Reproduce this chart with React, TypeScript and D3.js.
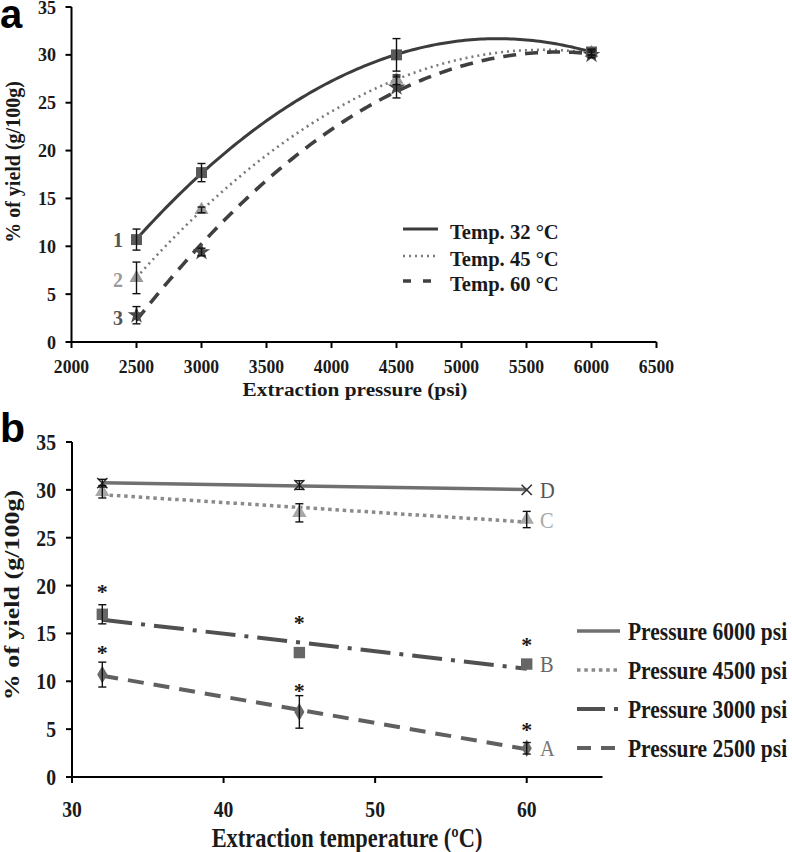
import * as d3 from "d3";

// ---- panel a: yield vs extraction pressure ----
const pressures = [2500, 3000, 4500, 6000];
const yield32 = [10.7, 17.7, 30.0, 30.3];
const err32 = [1.1, 0.95, 1.7, 0.3];
const yield45 = [6.7, 13.8, 27.4, 30.2];
const err45 = [1.65, 0.3, 0.5, 0.3];
const yield60 = [2.8, 9.4, 26.6, 30.0];
const err60 = [0.9, 0.4, 1.1, 0.3];
const pressureTicks = d3.range(2000, 6501, 500);
const yieldTicks = d3.range(0, 36, 5);

// ---- panel b: yield vs extraction temperature ----
const temps = [32, 45, 60];
const yield6000 = [30.7, 30.5, 30.0];
const err6000 = [0.4, 0.45, 0.1];
const yield4500 = [29.8, 27.6, 26.9];
const err4500 = [0.65, 0.95, 0.85];
const yield3000 = [17.0, 13.0, 11.8];
const err3000 = [1.0, 0, 0];
const yield2500 = [10.7, 6.8, 3.0];
const err2500 = [1.3, 1.7, 0.6];
const tempTicks = [30, 40, 50, 60];
// where the significance asterisks sit (yield units)
const star3000 = [19.9, 16.6, 14.3];
const star2500 = [13.5, 9.5, 5.4];

const SERIF = "'Liberation Serif', 'Times New Roman', serif";
const SANS = "'Liberation Sans', Arial, sans-serif";

function Txt({ x, y, size, sx = 1, anchor = "middle", fill = "#1a1a1a", weight = "bold", rotate = 0, family = SERIF, children }: any) {
  return (
    <text
      transform={`translate(${x},${y}) rotate(${rotate}) scale(${sx},1)`}
      fontSize={size}
      fontFamily={family}
      fontWeight={weight}
      textAnchor={anchor}
      fill={fill}
    >
      {children}
    </text>
  );
}

// least squares polynomial fit (degree 1 or 2)
function polyFit(xs: number[], ys: number[], deg: number) {
  const n = deg + 1;
  const A = d3.range(n).map((i) => d3.range(n).map((j) => d3.sum(xs, (x) => Math.pow(x, i + j))));
  const b = d3.range(n).map((i) => d3.sum(xs, (x, k) => Math.pow(x, i) * ys[k]));
  for (let c = 0; c < n; c++) {
    for (let r = c + 1; r < n; r++) {
      const f = A[r][c] / A[c][c];
      for (let k = c; k < n; k++) A[r][k] -= f * A[c][k];
      b[r] -= f * b[c];
    }
  }
  const coef = new Array(n).fill(0);
  for (let r = n - 1; r >= 0; r--) {
    let s = b[r];
    for (let k = r + 1; k < n; k++) s -= A[r][k] * coef[k];
    coef[r] = s / A[r][r];
  }
  return (x: number) => coef.reduce((acc, c, i) => acc + c * Math.pow(x, i), 0);
}

function ErrorBars({ xs, ys, es, x, y }: any) {
  return (
    <g stroke="#111" strokeWidth={1.4}>
      {xs.map((v: number, i: number) =>
        es[i] > 0.15 ? (
          <g key={i}>
            <line x1={x(v)} x2={x(v)} y1={y(ys[i] - es[i])} y2={y(ys[i] + es[i])} />
            <line x1={x(v) - 4} x2={x(v) + 4} y1={y(ys[i] - es[i])} y2={y(ys[i] - es[i])} />
            <line x1={x(v) - 4} x2={x(v) + 4} y1={y(ys[i] + es[i])} y2={y(ys[i] + es[i])} />
          </g>
        ) : null
      )}
    </g>
  );
}

function Markers({ xs, ys, x, y, type, size, fill, stroke }: any) {
  const path = d3.symbol().type(type).size(size)() as string;
  return (
    <g>
      {xs.map((v: number, i: number) => (
        <path
          key={i}
          d={path}
          transform={`translate(${x(v)},${y(ys[i])})`}
          fill={stroke ? "none" : fill}
          stroke={stroke || "none"}
          strokeWidth={stroke ? 1.6 : 0}
        />
      ))}
    </g>
  );
}

function PanelA() {
  const x = d3.scaleLinear().domain([2000, 6500]).range([71.5, 656.5]);
  const y = d3.scaleLinear().domain([0, 35]).range([342, 7]);
  const samples = d3.range(2500, 6001, 25);
  const toK = (v: number) => v / 1000;
  const kx = pressures.map(toK);
  const curve = (ys: number[]) => {
    const f = polyFit(kx, ys, 2);
    return d3
      .line<number>()
      .x((p) => x(p))
      .y((p) => y(f(toK(p))))(samples) as string;
  };
  const series = [
    { ys: yield32, stroke: "#3c3c3c", dash: "none", width: 3, label: "Temp. 32 °C" },
    { ys: yield45, stroke: "#7a7a7a", dash: "2,4", width: 2.6, label: "Temp. 45 °C" },
    { ys: yield60, stroke: "#404040", dash: "13,9", width: 3.6, label: "Temp. 60 °C" },
  ];
  const legendY = [229, 256, 281];
  return (
    <g>
      <Txt x={0} y={28} size={40} anchor="start" family={SANS} fill="#000">a</Txt>
      {/* axes */}
      <line x1={x(2000)} x2={x(6500)} y1={y(0)} y2={y(0)} stroke="#000" strokeWidth={2} />
      <line x1={x(2000)} x2={x(2000)} y1={y(0)} y2={y(35)} stroke="#000" strokeWidth={2} />
      {pressureTicks.map((t) => (
        <g key={t}>
          <line x1={x(t)} x2={x(t)} y1={y(0)} y2={y(0) + 6} stroke="#000" strokeWidth={2} />
          <Txt x={x(t)} y={373} size={18} sx={0.98}>{t}</Txt>
        </g>
      ))}
      {yieldTicks.map((t) => (
        <g key={t}>
          <line x1={x(2000) - 6} x2={x(2000)} y1={y(t)} y2={y(t)} stroke="#000" strokeWidth={2} />
          <Txt x={56} y={y(t) + 6.5} size={19} sx={0.95} anchor="end">{t}</Txt>
        </g>
      ))}
      <Txt x={355} y={396} size={19} sx={1.12}>Extraction pressure (psi)</Txt>
      <Txt x={20} y={162} size={20} rotate={-90} sx={1}>% of yield (g/100g)</Txt>

      {/* trend curves */}
      {series.map((s, i) => (
        <path key={i} d={curve(s.ys)} fill="none" stroke={s.stroke} strokeWidth={s.width} strokeDasharray={s.dash} />
      ))}

      {/* markers and error bars */}
      <Markers xs={pressures} ys={yield60} x={x} y={y} type={d3.symbolStar} size={95} fill="#4a4a4a" />
      <Markers xs={pressures} ys={yield45} x={x} y={y} type={d3.symbolTriangle} size={85} fill="#9a9a9a" />
      <Markers xs={pressures} ys={yield32} x={x} y={y} type={d3.symbolSquare} size={120} fill="#5a5a5a" />
      <ErrorBars xs={pressures} ys={yield32} es={err32} x={x} y={y} />
      <ErrorBars xs={pressures} ys={yield45} es={err45} x={x} y={y} />
      <ErrorBars xs={pressures} ys={yield60} es={err60} x={x} y={y} />

      <Txt x={118} y={247} size={20} fill="#555">1</Txt>
      <Txt x={118} y={287} size={20} fill="#9a9a9a">2</Txt>
      <Txt x={118} y={325} size={20} fill="#555">3</Txt>

      {/* legend */}
      {series.map((s, i) => (
        <g key={i}>
          <line x1={403} x2={438} y1={legendY[i]} y2={legendY[i]} stroke={s.stroke} strokeWidth={s.width} strokeDasharray={s.dash === "13,9" ? "8,12" : s.dash} />
          <Txt x={450} y={legendY[i] + 10} size={20} sx={1.03} anchor="start">{s.label}</Txt>
        </g>
      ))}
    </g>
  );
}

function PanelB() {
  const x = d3.scaleLinear().domain([30, 65]).range([72, 602.5]);
  const y = d3.scaleLinear().domain([0, 35]).range([777, 442]);
  const trend = (ys: number[]) => {
    const f = polyFit(temps, ys, 1);
    return d3
      .line<number>()
      .x((t) => x(t))
      .y((t) => y(f(t)))([temps[0], temps[temps.length - 1]]) as string;
  };
  const series = [
    { ys: yield6000, stroke: "#707070", dash: "none", width: 3.5, label: "Pressure 6000 psi", tag: "D", tagFill: "#555" },
    { ys: yield4500, stroke: "#8a8a8a", dash: "3.5,3.8", width: 3.5, label: "Pressure 4500 psi", tag: "C", tagFill: "#a8a8a8" },
    { ys: yield3000, stroke: "#505050", dash: "30,9,4,9", width: 4, label: "Pressure 3000 psi", tag: "B", tagFill: "#666" },
    { ys: yield2500, stroke: "#606060", dash: "16,10", width: 4, label: "Pressure 2500 psi", tag: "A", tagFill: "#777" },
  ];
  const legendY = [631, 670, 709, 748];
  const legendDash = ["none", "3.5,3.8", "28,9,4,9", "14,10"];
  const tagY = [y(yield6000[2]), y(yield4500[2]), y(yield3000[2]), y(yield2500[2])];
  return (
    <g>
      <Txt x={0} y={442} size={41} anchor="start" family={SANS} fill="#000">b</Txt>
      <line x1={x(30)} x2={x(65)} y1={y(0)} y2={y(0)} stroke="#000" strokeWidth={2} />
      <line x1={x(30)} x2={x(30)} y1={y(0)} y2={y(35)} stroke="#000" strokeWidth={2} />
      {tempTicks.map((t) => (
        <g key={t}>
          <line x1={x(t)} x2={x(t)} y1={y(0)} y2={y(0) + 6} stroke="#000" strokeWidth={2} />
          <Txt x={x(t)} y={817} size={24} sx={0.82}>{t}</Txt>
        </g>
      ))}
      {yieldTicks.map((t) => (
        <g key={t}>
          <line x1={x(30) - 6} x2={x(30)} y1={y(t)} y2={y(t)} stroke="#000" strokeWidth={2} />
          <Txt x={56} y={y(t) + 8} size={24} sx={0.82} anchor="end">{t}</Txt>
        </g>
      ))}
      <Txt x={347} y={847} size={27} sx={0.83}>Extraction temperature  (ºC)</Txt>
      <Txt x={19} y={595} size={21} rotate={-90} sx={1.24}>% of yield (g/100g)</Txt>

      {series.map((s, i) => (
        <path key={i} d={trend(s.ys)} fill="none" stroke={s.stroke} strokeWidth={s.width} strokeDasharray={s.dash} />
      ))}

      <Markers xs={temps} ys={yield4500} x={x} y={y} type={d3.symbolTriangle} size={90} fill="#a8a8a8" />
      <Markers xs={temps} ys={yield3000} x={x} y={y} type={d3.symbolSquare} size={130} fill="#666" />
      <Markers xs={temps} ys={yield2500} x={x} y={y} type={d3.symbolDiamond} size={90} fill="#6a6a6a" />
      <Markers xs={temps} ys={yield6000} x={x} y={y} type={d3.symbolTimes} size={70} stroke="#333" />
      <ErrorBars xs={temps} ys={yield6000} es={err6000} x={x} y={y} />
      <ErrorBars xs={temps} ys={yield4500} es={err4500} x={x} y={y} />
      <ErrorBars xs={temps} ys={yield3000} es={err3000} x={x} y={y} />
      <ErrorBars xs={temps} ys={yield2500} es={err2500} x={x} y={y} />

      {temps.map((t, i) => (
        <g key={t}>
          <Txt x={x(t)} y={y(star3000[i]) + 12} size={22}>*</Txt>
          <Txt x={x(t)} y={y(star2500[i]) + 12} size={22}>*</Txt>
        </g>
      ))}

      {series.map((s, i) => (
        <Txt key={s.tag} x={540} y={tagY[i] + 8} size={24} sx={0.85} anchor="start" fill={s.tagFill} weight="normal">
          {s.tag}
        </Txt>
      ))}

      {series.map((s, i) => (
        <g key={s.label}>
          <line x1={577} x2={620} y1={legendY[i]} y2={legendY[i]} stroke={s.stroke} strokeWidth={s.width} strokeDasharray={legendDash[i]} />
          <Txt x={628} y={legendY[i] + 9} size={25} sx={0.86} anchor="start">{s.label}</Txt>
        </g>
      ))}
    </g>
  );
}

export default function App() {
  return (
    <svg width={792} height={852} style={{ position: "absolute", left: 0, top: 0, background: "#fff" }}>
      <rect width={792} height={852} fill="#fff" />
      <PanelA />
      <PanelB />
    </svg>
  );
}
